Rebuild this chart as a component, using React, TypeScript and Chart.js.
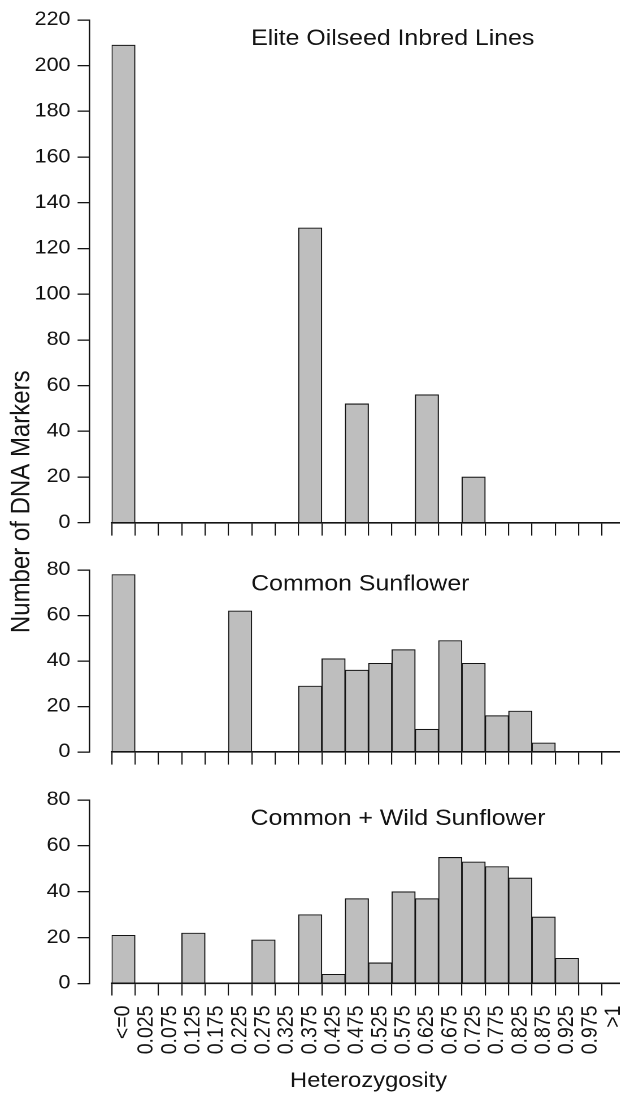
import React, { useEffect, useRef } from "react";
import { Chart, registerables } from "chart.js";

Chart.register(...registerables);

// ---------- data ----------
const heterozygosityBins = [
  "<=0", "0.025", "0.075", "0.125", "0.175", "0.225", "0.275", "0.325",
  "0.375", "0.425", "0.475", "0.525", "0.575", "0.625", "0.675", "0.725",
  "0.775", "0.825", "0.875", "0.925", "0.975", ">1",
];
const eliteOilseedCounts = [209, 0, 0, 0, 0, 0, 0, 0, 129, 0, 52, 0, 0, 56, 0, 20, 0, 0, 0, 0, 0, 0];
const commonSunflowerCounts = [78, 0, 0, 0, 0, 62, 0, 0, 29, 41, 36, 39, 45, 10, 49, 39, 16, 18, 4, 0, 0, 0];
const commonWildCounts = [21, 0, 0, 22, 0, 0, 19, 0, 30, 4, 37, 9, 40, 37, 55, 53, 51, 46, 29, 11, 0, 0];
const panelTitles = ["Elite Oilseed Inbred Lines", "Common Sunflower", "Common + Wild Sunflower"];
const panelMaxima = [220, 80, 80];
const yTickStep = 20;
const yAxisTitle = "Number of DNA Markers";
const xAxisTitle = "Heterozygosity";

// ---------- style / layout ----------
const STRETCH = 1.13;
const CANVAS_W = 600;
const CANVAS_H = 1093;
const FONT = "'Liberation Sans', Arial, Helvetica, sans-serif";
const INK = "#141414";
const BAR_FILL = "#bebebe";

const panelTitlePlugin = {
  id: "panelTitles",
  afterDraw(chart: any, _args: any, opts: any) {
    const { ctx } = chart;
    ctx.save();
    ctx.fillStyle = INK;
    ctx.font = `${opts.size}px ${FONT}`;
    ctx.textAlign = "left";
    ctx.textBaseline = "alphabetic";
    (opts.items || []).forEach((it: any) => {
      const x = chart.scales[it.xAxis].getPixelForValue(it.x);
      const y = chart.scales[it.yAxis].getPixelForValue(it.y);
      ctx.fillText(it.text, x, y);
    });
    ctx.restore();
  },
};

const tickFont = { family: FONT, size: 19 };

const panelAxis = (max: number, weight: number, stackWeight: number) => ({
  type: "linear",
  axis: "y",
  position: "left",
  stack: "panels",
  stackWeight,
  weight,
  min: 0,
  max,
  ticks: {
    stepSize: yTickStep,
    autoSkip: false,
    color: INK,
    font: tickFont,
    padding: 6.3,
  },
  grid: {
    display: true,
    drawOnChartArea: false,
    drawTicks: true,
    tickLength: 10.35,
    color: INK,
    lineWidth: 1.3,
  },
  border: { display: true, color: INK, width: 1.3 },
  afterFit: (s: any) => {
    s.width = 53;
  },
});

const spacerAxis = (weight: number, stackWeight: number) => ({
  type: "linear",
  axis: "y",
  position: "left",
  stack: "panels",
  stackWeight,
  weight,
  ticks: { display: false },
  grid: { display: false },
  border: { display: false },
  afterFit: (s: any) => {
    s.width = 53;
  },
});

const xBase = {
  type: "category",
  axis: "x",
  offset: true,
  grid: {
    display: true,
    offset: true,
    drawOnChartArea: false,
    drawTicks: true,
    tickLength: 12,
    color: INK,
    lineWidth: 1.1,
  },
  border: { display: true, color: INK, width: 1.6, z: 1 },
};

const barStyle = {
  backgroundColor: BAR_FILL,
  borderColor: INK,
  borderWidth: 1.05,
  borderSkipped: "start",
  barPercentage: 1,
  categoryPercentage: 1,
  grouped: false,
};

export default function App() {
  const ref = useRef<HTMLCanvasElement | null>(null);

  useEffect(() => {
    const canvas = ref.current;
    if (!canvas) return;
    canvas.width = CANVAS_W;
    canvas.height = CANVAS_H;

    const chart = new Chart(canvas, {
      type: "bar",
      data: {
        labels: heterozygosityBins,
        datasets: [
          { label: panelTitles[0], data: eliteOilseedCounts, xAxisID: "x1", yAxisID: "y1", ...barStyle },
          { label: panelTitles[1], data: commonSunflowerCounts, xAxisID: "x2", yAxisID: "y2", ...barStyle },
          { label: panelTitles[2], data: commonWildCounts, xAxisID: "x", yAxisID: "y3", ...barStyle },
        ] as any,
      },
      options: {
        responsive: false,
        maintainAspectRatio: false,
        devicePixelRatio: 2,
        animation: false,
        events: [],
        layout: { padding: { top: 20, left: 0, right: 46.6, bottom: 0 } },
        plugins: {
          legend: { display: false },
          tooltip: { enabled: false },
          title: { display: false },
          panelTitles: {
            size: 22,
            items: [
              { text: panelTitles[0], xAxis: "x1", yAxis: "y1", x: 5.47, y: 209 },
              { text: panelTitles[1], xAxis: "x2", yAxis: "y2", x: 5.47, y: 70.9 },
              { text: panelTitles[2], xAxis: "x", yAxis: "y3", x: 5.45, y: 69.2 },
            ],
          },
        } as any,
        scales: {
          yt: {
            type: "linear",
            axis: "y",
            position: "left",
            weight: 100,
            ticks: { display: false },
            grid: { display: false },
            border: { display: false },
            title: {
              display: true,
              text: yAxisTitle,
              color: INK,
              font: { family: FONT, size: 24, lineHeight: 1.2 },
              padding: { top: 4.8, bottom: 0 },
            },
            afterFit: (s: any) => {
              s.width = 26;
            },
          },
          y1: panelAxis(panelMaxima[0], 50, 502.7),
          sp1: spacerAxis(40, 47.3),
          y2: panelAxis(panelMaxima[1], 30, 182),
          sp2: spacerAxis(20, 48),
          y3: panelAxis(panelMaxima[2], 10, 183.5),
          gap: {
            type: "linear",
            axis: "y",
            position: "left",
            weight: 0,
            ticks: { display: false },
            grid: { display: false },
            border: { display: false },
            afterFit: (s: any) => {
              s.width = 19.85;
            },
          },
          x1: { ...xBase, position: { y1: 0 }, ticks: { display: false } },
          x2: { ...xBase, position: { y2: 0 }, ticks: { display: false } },
          x: {
            ...xBase,
            position: "bottom",
            ticks: {
              display: true,
              autoSkip: false,
              minRotation: 90,
              maxRotation: 90,
              padding: 10,
              color: INK,
              font: { family: FONT, size: 19.5 },
            },
            title: {
              display: true,
              text: xAxisTitle,
              color: INK,
              font: { family: FONT, size: 21, lineHeight: 1.14 },
              padding: { top: 0, bottom: 0 },
            },
            afterFit: (s: any) => {
              s.height = 109.5;
            },
          },
        } as any,
      },
      plugins: [panelTitlePlugin as any],
    });

    return () => chart.destroy();
  }, []);

  return (
    <div
      style={{
        position: "absolute",
        left: 0,
        top: 0,
        width: 620,
        height: 1093,
        overflow: "hidden",
        background: "#ffffff",
      }}
    >
      <div
        style={{
          width: CANVAS_W,
          height: CANVAS_H,
          transform: `scaleX(${STRETCH})`,
          transformOrigin: "0 0",
        }}
      >
        <canvas
          ref={ref}
          width={CANVAS_W}
          height={CANVAS_H}
          style={{ display: "block", width: CANVAS_W, height: CANVAS_H }}
        />
      </div>
    </div>
  );
}
